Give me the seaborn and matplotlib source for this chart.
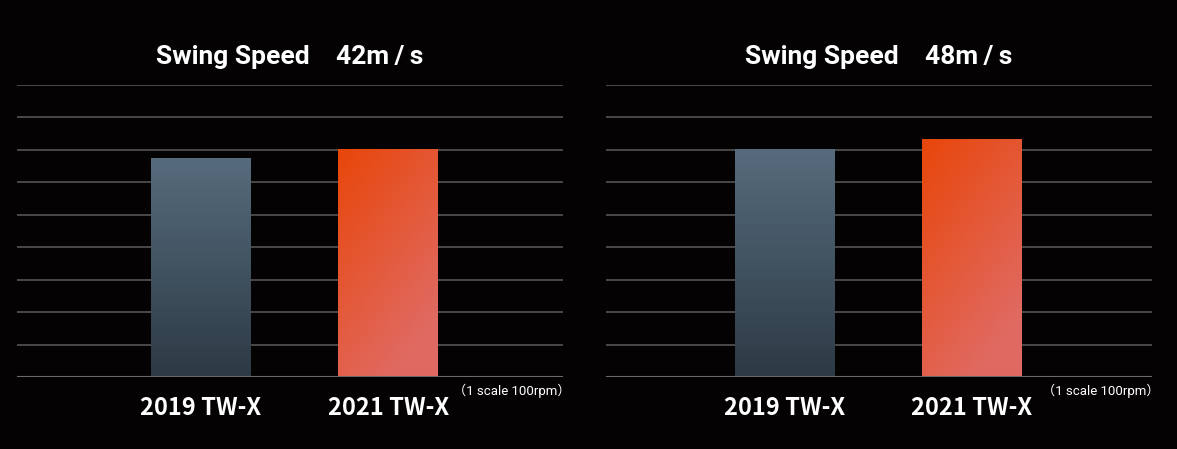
import numpy as np
import pandas as pd
import matplotlib.pyplot as plt
import matplotlib.colors as mcolors
import matplotlib.transforms as mtransforms
import seaborn as sns

# ======================================
# DATA (grid units, 1 scale = 100rpm)
# ======================================
MODELS = ["2019 TW-X", "2021 TW-X"]
SPEEDS = ["42", "48"]
VALUES_42 = [6.73, 7.0]
VALUES_48 = [7.0, 7.31]
N_SCALES = 9

# ======================================
# STYLE
# ======================================
BG = "#040203"
GRID = "#5c5c5c"
GRAY_TOP, GRAY_BOT = "#566b7c", "#2d3a45"
ORNG_TOP, ORNG_BOT = "#e8460a", "#e06a62"

sns.set_theme(style="dark")
plt.rcParams["font.family"] = ["Roboto", "DejaVu Sans", "Noto Sans CJK JP"]

fig = plt.figure(figsize=(11.77, 4.49), dpi=100, facecolor=BG)
axes = [fig.add_axes([0.0144, 0.1604, 0.4639, 0.6503]),
        fig.add_axes([0.5149, 0.1604, 0.4639, 0.6503])]
XLIMS = [(-0.976, 1.93), (-0.952, 1.96)]


def gradient_fill(ax, patch, c_top, c_bot, diagonal=False):
    x, w, h = patch.get_x(), patch.get_width(), patch.get_height()
    n = 200
    yy, xx = np.mgrid[0:1:n * 1j, 0:1:n * 1j]
    if diagonal:
        t = np.clip(0.45 * xx + 0.75 * yy, 0, 1)
    else:
        t = yy
    cmap = mcolors.LinearSegmentedColormap.from_list("g", [c_top, c_bot])
    ax.imshow(t, cmap=cmap, vmin=0, vmax=1, extent=[x, x + w, 0, h],
              origin="upper", aspect="auto", zorder=3)
    patch.set_alpha(0)


for ax, speed, vals, xl in zip(axes, SPEEDS, [VALUES_42, VALUES_48], XLIMS):
    ax.set_facecolor(BG)
    df = pd.DataFrame({"model": MODELS, "value": vals})
    sns.barplot(data=df, x="model", y="value", ax=ax, width=0.53,
                color=GRAY_TOP, saturation=1, zorder=3)
    for i, p in enumerate(ax.patches):
        if i == 0:
            gradient_fill(ax, p, GRAY_TOP, GRAY_BOT)
        else:
            gradient_fill(ax, p, ORNG_TOP, ORNG_BOT, diagonal=True)

    ax.set_xlim(*xl)
    ax.set_ylim(0, N_SCALES)
    for k in range(N_SCALES + 1):
        ax.axhline(k, color=GRID, lw=1.1, zorder=1)
    ax.axhline(0, color="#6a6a6a", lw=1.5, zorder=4)
    for s in ax.spines.values():
        s.set_visible(False)
    ax.set_yticks([])
    ax.set_xlabel("")
    ax.set_ylabel("")
    ax.tick_params(axis="x", length=0, pad=14)
    for lab in ax.get_xticklabels():
        lab.set_fontfamily(["Noto Sans CJK JP"])
        lab.set_fontweight("bold")
        lab.set_fontsize(17)
        lab.set_color("white")
    ax.set_title(f"Swing Speed\u3000{speed}m\u2009/\u2009s", color="white",
                 fontsize=19, fontweight="bold", pad=15,
                 family=["Roboto", "DejaVu Sans", "Noto Sans CJK JP"])
    shift = mtransforms.offset_copy(ax.transAxes, fig=fig, x=8, y=0, units="dots")
    ax.text(1.0, -0.022, "\uff081 scale 100rpm\uff09", transform=shift,
            ha="right", va="top", color="white", fontsize=9.5,
            family=["Roboto", "Noto Sans CJK JP"])

fig.savefig("out.png", dpi=100, facecolor=BG)
